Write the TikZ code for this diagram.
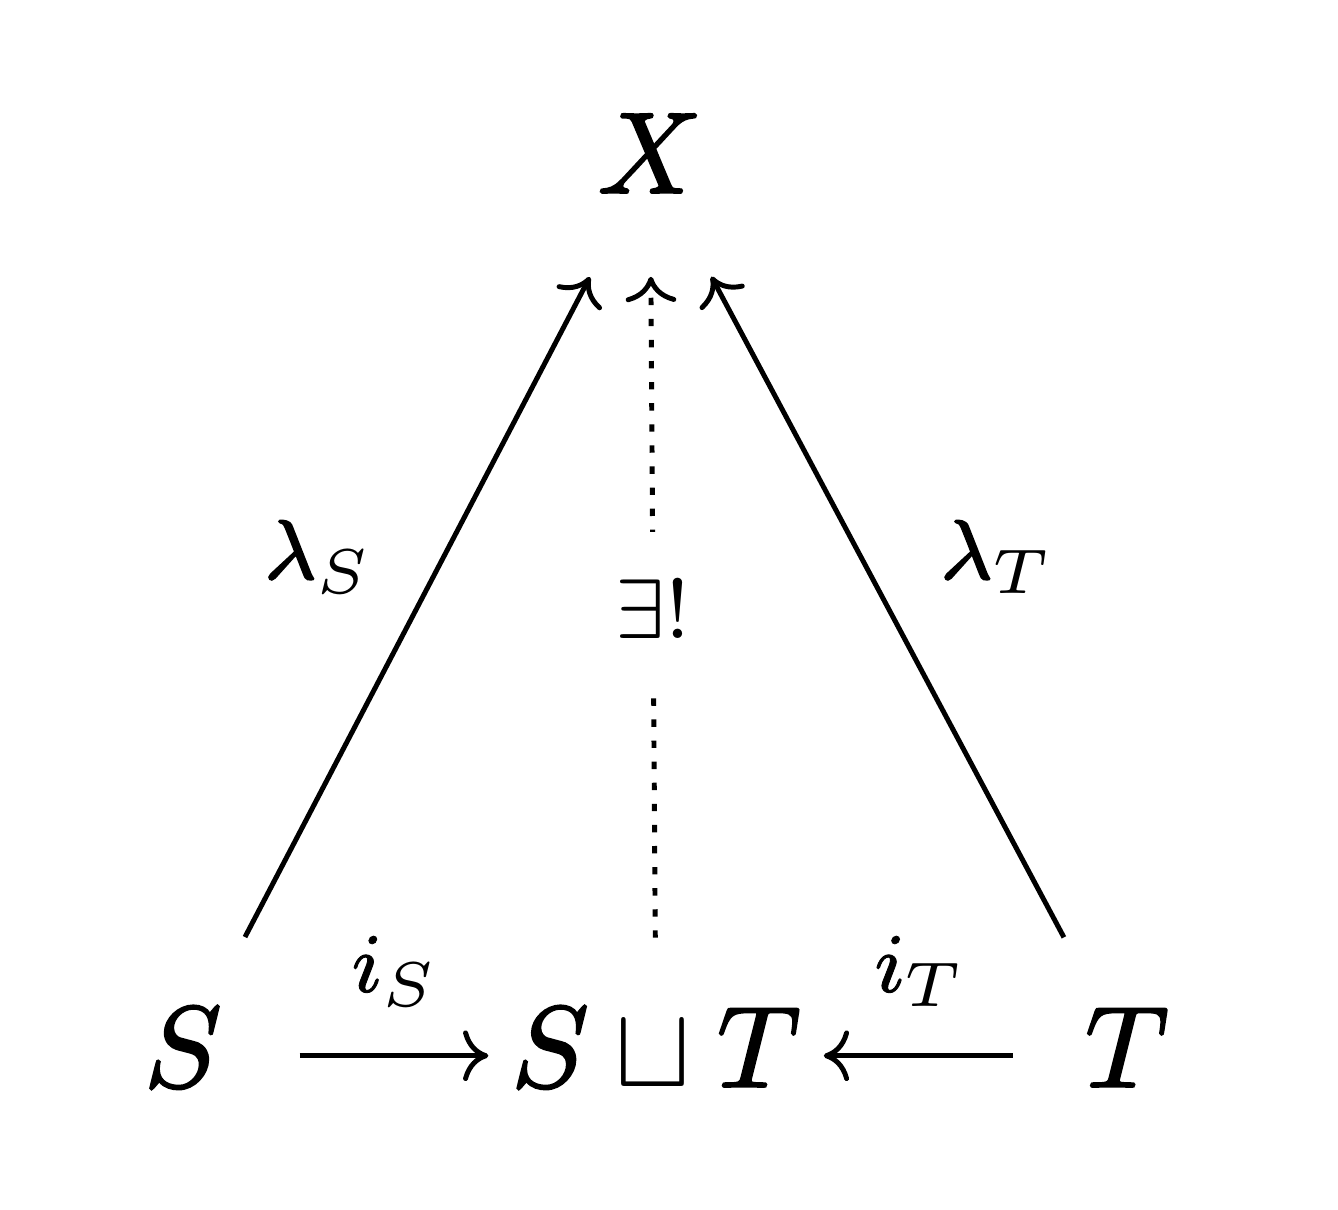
\documentclass[tikz,border=0pt]{standalone}
\usepackage{amsmath}
\usetikzlibrary{arrows.meta}
\newcommand\heavy[2][0.2]{\special{pdf:literal direct 2 Tr #1 w}#2\special{pdf:literal direct 0 Tr}}
\begin{document}
\begin{tikzpicture}[
  obj/.style={inner sep=0pt, anchor=base, text height=7.2pt, text depth=1.3pt, font=\fontsize{10.7}{13}\selectfont},
  lbl/.style={font=\fontsize{8}{10}\selectfont},
  map/.style={line width=0.47pt, -{Computer Modern Rightarrow[length=2.4pt,width=4.8pt]}}
]
\useasboundingbox (0,0) rectangle (4.46,4.033);
\node[obj] (X) at (2.167,3.39) {$\heavy{X}$};
\node[obj] (S) at (0.61,0.41) {$\heavy{S}$};
\node[obj] (SuT) at (2.187,0.41) {$\heavy{S}\sqcup\heavy{T}$};
\node[obj] (T) at (3.757,0.41) {$\heavy{T}$};

\draw[map, shorten <=0.253cm, shorten >=0.07cm] (S) -- (SuT) node [lbl, pos=0.6, above=0.04cm] {${\heavy[0.08]{i}}_S$};
\draw[map, shorten <=0.235cm, shorten >=0.07cm] (T) -- (SuT) node [lbl, pos=0.58, above=0.04cm] {${\heavy[0.08]{i}}_T$};
\draw[map, shorten <=0.27cm, shorten >=0.257cm] (S) -- (X) node [lbl, pos=0.565, left=0.11cm] {${\heavy[0.15]{\lambda}}_S$};
\draw[map, shorten <=0.27cm, shorten >=0.257cm] (T) -- (X) node [lbl, pos=0.565, right=0.14cm] {${\heavy[0.15]{\lambda}}_T$};
\draw[map, dash pattern=on 0.7pt off 1.3pt, shorten <=0.237cm, shorten >=0.227cm] (SuT) -- (X) node [lbl, pos=0.5, fill=white, inner sep=4.5pt] {$\exists!$};
\end{tikzpicture}
\end{document}
